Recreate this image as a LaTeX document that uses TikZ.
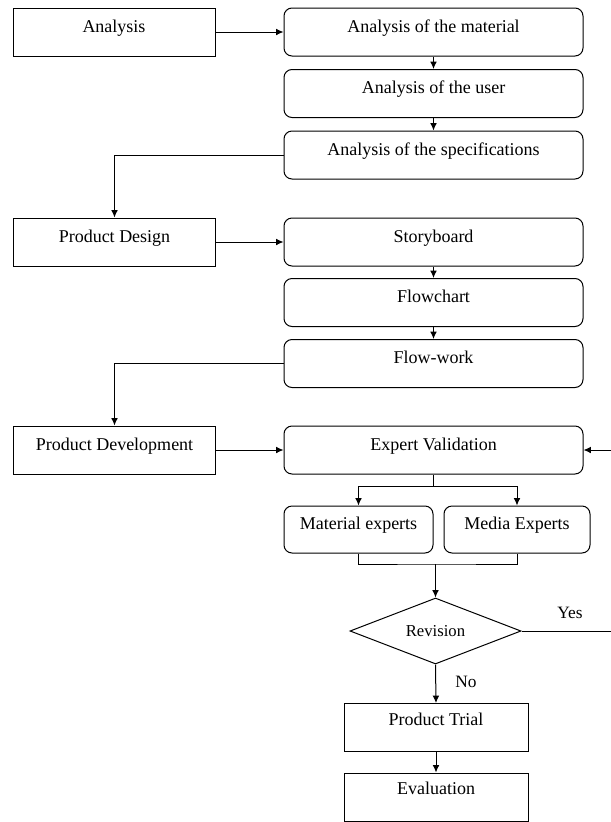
\documentclass[tikz,border=0pt]{standalone}
\usepackage{fontspec}
\setmainfont{Liberation Serif}
\usetikzlibrary{arrows,arrows.meta,shapes.geometric}

\tikzset{
	stagebox/.style={draw, rectangle, line width=0.75pt, minimum width=151.5pt, minimum height=36pt,
		text height=10pt, text depth=9.5pt, font=\fontsize{13.5}{16}\selectfont},
	stepbox/.style={stagebox, rounded corners=6pt, minimum width=224.25pt},
	endbox/.style={stagebox, minimum width=138pt, text depth=13.2pt},
	choice/.style={draw, diamond, aspect=2.6, line width=0.75pt, inner sep=0pt,
		minimum width=128.25pt, minimum height=49.5pt, font=\fontsize{12.5}{15}\selectfont},
	link/.style={line width=0.75pt},
	arrow/.style={line width=0.75pt, -{Latex[length=5.5pt,width=5pt]}}
}

\begin{document}
\begin{tikzpicture}[x=0.75pt, y=-0.75pt]
	\useasboundingbox (0,0) rectangle (611,822);
	% left column
	\node[stagebox] (analysis) at (114,32) {Analysis};
	\node[stagebox] (design) at (114.5,242) {Product Design};
	\node[stagebox] (develop) at (114.5,450) {Product Development};
	% right column
	\node[stepbox] (material) at (433.5,32) {Analysis of the material};
	\node[stepbox] (user) at (433.5,93.5) {Analysis of the user};
	\node[stepbox] (spec) at (433.5,155) {Analysis of the specifications};
	\node[stepbox] (story) at (433.5,242) {Storyboard};
	\node[stepbox] (flowchart) at (433.5,302.5) {Flowchart};
	\node[stepbox] (flowwork) at (433.5,363.5) {Flow-work};
	\node[stepbox] (valid) at (433.5,450) {Expert Validation};
	\node[stepbox, minimum width=111.75pt, minimum height=35.25pt] (matexp) at (358.5,529.5) {Material experts};
	\node[stepbox, minimum width=109.5pt, minimum height=35.25pt] (medexp) at (517,529.5) {Media Experts};
	\node[choice] (revision) at (435.5,631) {Revision};
	\node[endbox] (trial) at (436,727.5) {Product Trial};
	\node[endbox] (evaluation) at (436,797) {Evaluation};
	\node[font=\fontsize{13}{15}\selectfont] (yes) at (570,613) {Yes};
	\node[font=\fontsize{13}{15}\selectfont] (no) at (466,682) {No};
	\coordinate (split) at (433.5,486);
	\coordinate (merge) at (435.5,564);
	\coordinate (back) at (630,631);

	\draw[arrow] (analysis) -- (material);
	\draw[arrow] (material) -- (user);
	\draw[arrow] (user) -- (spec);
	\draw[arrow] (spec.west) -| (design.north);
	\draw[arrow] (design) -- (story);
	\draw[arrow] (story) -- (flowchart);
	\draw[arrow] (flowchart) -- (flowwork);
	\draw[arrow] (flowwork.west) -| (develop.north);
	\draw[arrow] (develop) -- (valid);
	\draw[link] (valid.south) -- (split);
	\draw[arrow] (split) -| (matexp.north);
	\draw[arrow] (split) -| (medexp.north);
	\draw[link] (matexp.south) |- (merge) -| (medexp.south);
	\draw[arrow] (merge) -- (revision.north);
	\draw[arrow] (revision.east) -- (back) |- (valid.east);
	\draw[arrow] (revision.south) -- (trial.north);
	\draw[arrow] (trial) -- (evaluation);
\end{tikzpicture}
\end{document}
